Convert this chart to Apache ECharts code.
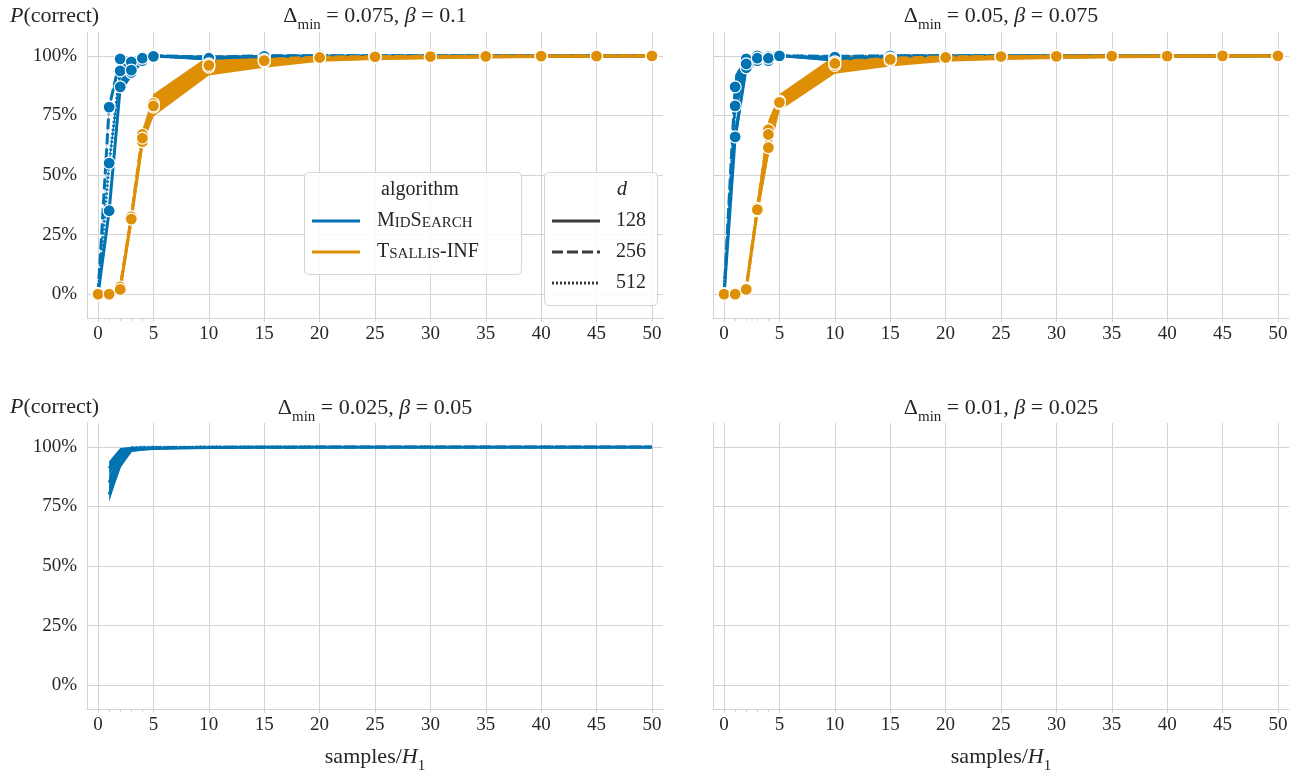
<!DOCTYPE html>
<html><head><meta charset="utf-8">
<script src="https://cdn.jsdelivr.net/npm/echarts@6/dist/echarts.min.js"></script>
<style>html,body{margin:0;padding:0;background:#fff}#c{width:1302px;height:772px}</style>
</head><body><div id="c"></div>
<script>
// ---------------- data ----------------
const xs = [0, 1, 2, 3, 4, 5, 10, 15, 20, 25, 30, 35, 40, 45, 50];
const xTicks = [0, 5, 10, 15, 20, 25, 30, 35, 40, 45, 50];
const xMinorTicks = [1, 2, 3, 4];
const yTicks = [0, 0.25, 0.5, 0.75, 1];
const dValues = ['128', '256', '512'];
const algorithms = ['MidSearch', 'Tsallis-INF'];

// facet 1: Δmin = 0.075, β = 0.1
const f1_mid_128 = [0, 0.35, 0.87, 0.93, 0.98, 1.0, 0.99, 0.998, 0.998, 0.999, 0.999, 1.0, 1.0, 1.0, 1.0];
const f1_mid_256 = [0, 0.785, 0.987, 0.975, 0.995, 1.0, 0.995, 1.0, 1.0, 1.0, 1.0, 1.0, 1.0, 1.0, 1.0];
const f1_mid_512 = [0, 0.55, 0.937, 0.94, 0.99, 0.998, 0.99, 0.998, 1.0, 1.0, 1.0, 1.0, 1.0, 1.0, 1.0];
const f1_mid_spread = [0, 0.015, 0.03, 0.02, 0.01, 0.004, 0.01, 0.005, 0.004, 0.003, 0.003, 0.003, 0.003, 0.003, 0.003];
const f1_ts_128 = [0, 0, 0.025, 0.32, 0.64, 0.785, 0.953, 0.975, 0.99, 0.994, 0.996, 0.997, 0.998, 0.998, 0.999];
const f1_ts_256 = [0, 0, 0.03, 0.325, 0.67, 0.80, 0.966, 0.985, 0.995, 0.997, 0.998, 0.999, 0.999, 1.0, 1.0];
const f1_ts_512 = [0, 0, 0.02, 0.315, 0.655, 0.79, 0.96, 0.98, 0.993, 0.996, 0.997, 0.998, 0.999, 0.999, 1.0];
const f1_ts_spread = [0, 0, 0.01, 0.012, 0.02, 0.04, 0.035, 0.025, 0.015, 0.012, 0.01, 0.008, 0.007, 0.006, 0.005];

// facet 2: Δmin = 0.05, β = 0.075
const f2_mid_128 = [0, 0.66, 0.95, 0.98, 0.98, 1.0, 0.985, 0.998, 0.999, 1.0, 1.0, 1.0, 1.0, 1.0, 1.0];
const f2_mid_256 = [0, 0.87, 0.987, 1.0, 0.997, 1.0, 0.998, 1.0, 1.0, 1.0, 1.0, 1.0, 1.0, 1.0, 1.0];
const f2_mid_512 = [0, 0.79, 0.966, 0.99, 0.99, 1.0, 0.995, 1.0, 1.0, 1.0, 1.0, 1.0, 1.0, 1.0, 1.0];
const f2_mid_spread = [0, 0.05, 0.02, 0.01, 0.01, 0.004, 0.01, 0.005, 0.004, 0.003, 0.003, 0.003, 0.003, 0.003, 0.003];
const f2_ts_128 = [0, 0, 0.025, 0.35, 0.615, 0.80, 0.96, 0.98, 0.99, 0.995, 0.997, 0.998, 0.998, 0.999, 0.999];
const f2_ts_256 = [0, 0, 0.025, 0.36, 0.69, 0.81, 0.975, 0.99, 0.996, 0.998, 0.999, 0.999, 1.0, 1.0, 1.0];
const f2_ts_512 = [0, 0, 0.02, 0.355, 0.67, 0.805, 0.968, 0.985, 0.993, 0.997, 0.998, 0.999, 0.999, 1.0, 1.0];
const f2_ts_spread = [0, 0, 0.01, 0.03, 0.04, 0.03, 0.035, 0.025, 0.015, 0.012, 0.01, 0.008, 0.007, 0.006, 0.005];

// facet 3: Δmin = 0.025, β = 0.05 (MidSearch only, no markers)
const f3_mid_128 = [null, 0.80, 0.925, 0.985, 0.99, 0.993, 0.997, 0.998, 0.998, 0.998, 0.998, 0.998, 0.998, 0.998, 0.998];
const f3_mid_256 = [null, 0.85, 0.955, 0.99, 0.995, 0.996, 0.998, 0.998, 0.999, 0.999, 0.999, 0.999, 0.999, 0.999, 0.999];
const f3_mid_512 = [null, 0.91, 0.98, 0.997, 0.998, 0.998, 0.999, 0.999, 0.999, 0.999, 0.999, 0.999, 0.999, 0.999, 0.999];
const f3_mid_spread = [0, 0.03, 0.015, 0.006, 0.005, 0.004, 0.003, 0.003, 0.003, 0.003, 0.003, 0.003, 0.003, 0.003, 0.003];

// facet 4: Δmin = 0.01, β = 0.025 (empty)

// ---------------- styling ----------------
const FONT = '"Liberation Serif", "DejaVu Serif", serif';
const TXT = '#262626';
const GRIDC = '#d3d3d3';
const BLUE = '#0173b2', ORANGE = '#de8f05';
const DASHES = ['solid', [11, 4], [2, 2]];

const grids = [
  {left: 87, top: 32, width: 576, height: 286},
  {left: 713, top: 32, width: 576, height: 286},
  {left: 87, top: 423, width: 576, height: 286},
  {left: 713, top: 423, width: 576, height: 286}
];

const xAxes = [], yAxes = [];
grids.forEach((g, i) => {
  xAxes.push({
    type: 'value', gridIndex: i, min: -1, max: 51,
    axisLine: {show: true, onZero: false, lineStyle: {color: GRIDC, width: 1}},
    axisTick: {show: true, customValues: xTicks, length: 4, lineStyle: {color: GRIDC}},
    axisLabel: {customValues: xTicks, fontSize: 19, color: TXT, margin: 7, fontFamily: FONT},
    splitLine: {show: true, lineStyle: {color: GRIDC, width: 1}}
  });
  xAxes.push({
    type: 'value', gridIndex: i, min: -1, max: 51, position: 'bottom',
    axisLine: {show: false, onZero: false},
    axisTick: {show: true, customValues: xMinorTicks, length: 3, lineStyle: {color: GRIDC}},
    axisLabel: {show: false},
    splitLine: {show: false}
  });
  yAxes.push({
    type: 'value', gridIndex: i, min: -0.1, max: 1.1,
    axisLine: {show: true, onZero: false, lineStyle: {color: GRIDC, width: 1}},
    axisTick: {show: false, customValues: yTicks},
    axisLabel: {show: i % 2 === 0, customValues: yTicks, fontSize: 19, color: TXT, margin: 10, fontFamily: FONT,
      formatter: v => Math.round(v * 100) + '%'},
    splitLine: {show: true, lineStyle: {color: GRIDC, width: 1}}
  });
});

const series = [];
function band(g, mean, spread, color) {
  const pts = [];
  xs.forEach((x, i) => { if (mean[i] != null) pts.push([x, mean[i], spread[i]]); });
  series.push({
    type: 'custom', xAxisIndex: g * 2, yAxisIndex: g, z: 1, silent: true,
    data: pts,
    renderItem: (params, api) => {
      if (params.dataIndex !== 0) return null;
      const top = [], bot = [];
      pts.forEach(p => {
        const lo = Math.max(0, p[1] - p[2]), hi = Math.min(1, p[1] + p[2]);
        top.push(api.coord([p[0], hi]));
        bot.push(api.coord([p[0], lo]));
      });
      return {type: 'polygon', shape: {points: top.concat(bot.reverse())}, style: {fill: color}};
    }
  });
}
function line(g, vals, color, dashIdx, markers, z) {
  const data = [];
  xs.forEach((x, i) => { if (vals[i] != null) data.push([x, vals[i]]); });
  series.push({
    type: 'line', xAxisIndex: g * 2, yAxisIndex: g, z: z, silent: true,
    data: data,
    symbol: markers ? 'circle' : 'none', symbolSize: 12, showAllSymbol: true,
    itemStyle: {color: color, borderColor: '#ffffff', borderWidth: 1.2},
    lineStyle: {color: color, width: 3, type: DASHES[dashIdx]},
    emphasis: {disabled: true}
  });
}

const facets = [
  {g: 0, mid: [f1_mid_128, f1_mid_256, f1_mid_512], midS: f1_mid_spread, ts: [f1_ts_128, f1_ts_256, f1_ts_512], tsS: f1_ts_spread, markers: true},
  {g: 1, mid: [f2_mid_128, f2_mid_256, f2_mid_512], midS: f2_mid_spread, ts: [f2_ts_128, f2_ts_256, f2_ts_512], tsS: f2_ts_spread, markers: true},
  {g: 2, mid: [f3_mid_128, f3_mid_256, f3_mid_512], midS: f3_mid_spread, ts: null, tsS: null, markers: false}
];
facets.forEach(f => {
  f.mid.forEach(v => band(f.g, v, f.midS, BLUE));
  if (f.ts) f.ts.forEach(v => band(f.g, v, f.tsS, ORANGE));
  f.mid.forEach((v, k) => line(f.g, v, BLUE, k, f.markers, 3));
  if (f.ts) f.ts.forEach((v, k) => line(f.g, v, ORANGE, k, f.markers, 4));
});

// ---------------- texts ----------------
const RICH = {
  r: {fontSize: 22, fontFamily: FONT, fill: TXT, verticalAlign: 'bottom', padding: [0, 0, 5, 0]},
  i: {fontSize: 22, fontFamily: FONT, fontStyle: 'italic', fill: TXT, verticalAlign: 'bottom', padding: [0, 0, 5, 0]},
  s: {fontSize: 15, fontFamily: FONT, fill: TXT, verticalAlign: 'bottom', padding: [0, 0, 0, 0]}
};
const titles = [
  {x: 375, y: 19, t: '{r|Δ}{s|min}{r| = 0.075, }{i|β}{r| = 0.1}'},
  {x: 1001, y: 19, t: '{r|Δ}{s|min}{r| = 0.05, }{i|β}{r| = 0.075}'},
  {x: 375, y: 411, t: '{r|Δ}{s|min}{r| = 0.025, }{i|β}{r| = 0.05}'},
  {x: 1001, y: 411, t: '{r|Δ}{s|min}{r| = 0.01, }{i|β}{r| = 0.025}'}
];
const graphic = [];
function rtext(x, y, t, align) {
  graphic.push({type: 'text', z: 20, silent: true,
    style: {x: x, y: y, text: t, rich: RICH, textAlign: align || 'center', textVerticalAlign: 'middle', fill: TXT}});
}
titles.forEach(t => rtext(t.x, t.y, t.t));
rtext(10, 19, '{i|P}{r|(correct)}', 'left');
rtext(10, 410, '{i|P}{r|(correct)}', 'left');
rtext(375, 760, '{r|samples/}{i|H}{s|1}');
rtext(1001, 760, '{r|samples/}{i|H}{s|1}');

// legend
const LRICH = {
  b: {fontSize: 20, fontFamily: FONT, fill: TXT, verticalAlign: 'bottom'},
  c: {fontSize: 15, fontFamily: FONT, fill: TXT, verticalAlign: 'bottom'},
  i: {fontSize: 20, fontFamily: FONT, fontStyle: 'italic', fill: TXT, verticalAlign: 'bottom'}
};
const algLabels = ['{b|M}{c|ID}{b|S}{c|EARCH}', '{b|T}{c|SALLIS}{b|-INF}'];
const algColors = [BLUE, ORANGE];
function ltext(x, y, t, align) {
  graphic.push({type: 'text', z: 31, silent: true,
    style: {x: x, y: y, text: t, rich: LRICH, textAlign: align || 'left', textVerticalAlign: 'middle', fill: TXT}});
}
graphic.push({type: 'rect', z: 30, silent: true, shape: {x: 304.5, y: 172.5, width: 217, height: 102, r: 4},
  style: {fill: 'rgba(255,255,255,0.85)', stroke: '#d6d6d6', lineWidth: 1}});
ltext(420, 190, '{b|algorithm}', 'center');
algorithms.forEach((a, k) => {
  const y = 221 + k * 31;
  graphic.push({type: 'line', z: 31, silent: true, shape: {x1: 312, y1: y, x2: 360, y2: y},
    style: {stroke: algColors[k], lineWidth: 3}});
  ltext(377, y, algLabels[k]);
});
graphic.push({type: 'rect', z: 30, silent: true, shape: {x: 544.5, y: 172.5, width: 113, height: 133, r: 4},
  style: {fill: 'rgba(255,255,255,0.85)', stroke: '#d6d6d6', lineWidth: 1}});
ltext(622, 190, '{i|d}', 'center');
dValues.forEach((d, k) => {
  const y = 221 + k * 31;
  const dash = DASHES[k] === 'solid' ? null : DASHES[k];
  graphic.push({type: 'line', z: 31, silent: true, shape: {x1: 552, y1: y, x2: 600, y2: y},
    style: {stroke: '#3a3a3a', lineWidth: 3, lineDash: dash}});
  ltext(616, y, '{b|' + d + '}');
});

const chart = echarts.init(document.getElementById('c'), null, {renderer: 'canvas'});
chart.setOption({
  animation: false,
  backgroundColor: '#ffffff',
  textStyle: {fontFamily: FONT},
  grid: grids,
  xAxis: xAxes,
  yAxis: yAxes,
  series: series,
  graphic: graphic
});
</script>
</body></html>
